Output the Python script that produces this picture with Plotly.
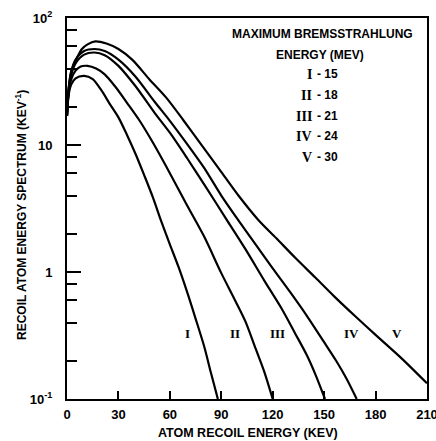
import math
import plotly.graph_objects as go

# ---- data (atom recoil energy in keV, spectrum in keV^-1) ----
x_I = [0, 1, 2.5, 5, 10, 15, 20, 25, 30, 35, 40, 45, 50, 55, 60, 65, 70, 75, 80, 84, 88]
y_I = [17, 25, 30, 33.5, 35, 33, 27, 21, 16.5, 12, 8.5, 5.8, 3.9, 2.5, 1.65, 1.1, 0.7, 0.43, 0.26, 0.16, 0.1]

x_II = [0, 1, 2.5, 5, 8, 12, 17, 22, 28, 35, 42, 50, 60, 70, 80, 90, 98, 104, 110, 115, 120]
y_II = [17, 26, 33, 38.5, 41.5, 42, 40, 36, 29, 21.5, 15.8, 10.5, 6.0, 3.35, 1.9, 0.98, 0.6, 0.41, 0.25, 0.165, 0.1]

x_III = [0, 1, 2.5, 5, 10, 16, 22, 30, 40, 51, 60, 70, 80, 93, 104, 115, 125, 133, 140, 145, 150.5]
y_III = [17, 27, 36, 44, 51.5, 53.5, 51, 42, 29, 18, 12.5, 7.9, 4.9, 2.6, 1.52, 0.86, 0.52, 0.33, 0.22, 0.155, 0.1]

x_IV = [0, 1, 2.5, 5, 10, 16, 22, 30, 40, 51, 60, 70, 80, 90, 100, 110, 120, 130, 140, 150, 157, 163, 169]
y_IV = [17, 28, 38, 47, 55, 57, 55, 47, 34.5, 22, 15.5, 10.2, 6.6, 4.0, 2.55, 1.65, 1.07, 0.7, 0.45, 0.28, 0.2, 0.145, 0.1]

x_V = [0, 1, 2.5, 5, 8.7, 12, 16.5, 23, 30, 38, 48, 58, 68, 78, 89, 100, 111.6, 122, 133, 145, 156, 168, 180, 195, 210]
y_V = [17, 28, 38, 46, 57, 62, 65.5, 63, 57, 47, 33, 23.5, 15.6, 10.2, 6.4, 4.0, 2.57, 1.85, 1.3, 0.9, 0.64, 0.45, 0.32, 0.21, 0.133]

curve_names = ["I", "II", "III", "IV", "V"]
curve_label_x = [70, 98, 123, 166, 192.5]
curve_label_y = [0.33, 0.33, 0.33, 0.33, 0.33]

legend_title = ["MAXIMUM BREMSSTRAHLUNG", "ENERGY (MEV)"]
legend_energy_mev = [15, 18, 21, 24, 30]

x_tickvals = [0, 30, 60, 90, 120, 150, 180, 210]
x_ticktext = ["0", "30", "60", "90", "120", "150", "180", "210"]
y_tickvals = [0.1, 1, 10, 100]
y_ticktext = ["10<sup>-1</sup>", "1", "10", "10<sup>2</sup>"]
y_minor = [0.2, 0.4, 0.6, 0.8, 2, 4, 6, 8, 20, 40, 60, 80]

SANS = "Liberation Sans, Arial, sans-serif"
SERIF = "Liberation Serif, DejaVu Serif, serif"

# plot-area geometry in pixels
L, R, T, B = 67, 427, 18, 399
W, H = R - L, B - T


def px(xp):
    return (xp - L) / W


def py(yp):
    return (B - yp) / H


fig = go.Figure()
for xs, ys in [(x_I, y_I), (x_II, y_II), (x_III, y_III), (x_IV, y_IV), (x_V, y_V)]:
    fig.add_trace(go.Scatter(x=xs, y=ys, mode="lines",
                             line=dict(color="black", width=2.2, shape="spline", smoothing=0.8),
                             showlegend=False, hoverinfo="skip"))

annotations = []
for name, lx, ly in zip(curve_names, curve_label_x, curve_label_y):
    annotations.append(dict(x=lx, y=math.log10(ly), yref="y", xref="x", text=f"<b>{name}</b>",
                            xanchor="center", yanchor="middle",
                            showarrow=False, font=dict(family=SERIF, size=13, color="black")))

# legend text block (top right)
annotations.append(dict(xref="paper", yref="paper", x=px(322), y=py(34),
                        xanchor="center", yanchor="middle",
                        text=f"<b>{legend_title[0]}</b>", showarrow=False,
                        font=dict(family=SANS, size=12, color="black")))
annotations.append(dict(xref="paper", yref="paper", x=px(320), y=py(55),
                        xanchor="center", yanchor="middle",
                        text=f"<b>{legend_title[1]}</b>", showarrow=False,
                        font=dict(family=SANS, size=12, color="black")))
leg_rows_py = [74, 95, 116, 136, 157]
for name, e, yp in zip(curve_names, legend_energy_mev, leg_rows_py):
    annotations.append(dict(xref="paper", yref="paper", x=px(314), y=py(yp),
                            xanchor="right", yanchor="middle",
                            text=f"<b>{name}</b>", showarrow=False,
                            font=dict(family=SERIF, size=14, color="black")))
    annotations.append(dict(xref="paper", yref="paper", x=px(315), y=py(yp),
                            xanchor="left", yanchor="middle",
                            text=f"<b>- {e}</b>", showarrow=False,
                            font=dict(family=SANS, size=12, color="black")))

# axis titles
annotations.append(dict(xref="paper", yref="paper", x=px(248), y=py(433),
                        xanchor="center", yanchor="middle",
                        text="<b>ATOM RECOIL ENERGY (KEV)</b>", showarrow=False,
                        font=dict(family=SANS, size=12.5, color="black")))
annotations.append(dict(xref="paper", yref="paper", x=px(21), y=py(215),
                        xanchor="center", yanchor="middle",
                        text="<b>RECOIL ATOM ENERGY SPECTRUM (KEV<sup>-1</sup>)</b>", showarrow=False,
                        textangle=-90, font=dict(family=SANS, size=12, color="black")))

fig.update_layout(
    width=436, height=441,
    margin=dict(l=L, r=436 - R, t=T, b=441 - B, autoexpand=False),
    paper_bgcolor="white", plot_bgcolor="white",
    annotations=annotations,
    xaxis=dict(range=[0, 210], tickmode="array", tickvals=x_tickvals,
               ticktext=[f"<b>{t}</b>" for t in x_ticktext],
               ticks="inside", ticklen=8, tickwidth=1.5, tickcolor="black",
               showline=True, linewidth=2, linecolor="black", mirror=True,
               showgrid=False, zeroline=False, automargin=False,
               ticklabeloverflow="allow", ticklabelstandoff=2,
               tickfont=dict(family=SANS, size=13, color="black")),
    yaxis=dict(type="log", range=[-1, 2], tickmode="array", tickvals=y_tickvals,
               ticktext=[f"<b>{t}</b>" for t in y_ticktext],
               ticks="inside", ticklen=14, tickwidth=2, tickcolor="black",
               minor=dict(tickmode="array", tickvals=y_minor, ticks="inside", ticklen=10,
                          tickwidth=1.5, tickcolor="black", showgrid=False),
               showline=True, linewidth=2, linecolor="black", mirror=True,
               showgrid=False, zeroline=False, ticklabelstandoff=10, automargin=False,
               ticklabeloverflow="allow",
               tickfont=dict(family=SANS, size=13, color="black")),
)

fig.write_html("out.html", config={"displayModeBar": False},
               post_script="document.body.style.margin='0';document.body.style.overflow='hidden';")
